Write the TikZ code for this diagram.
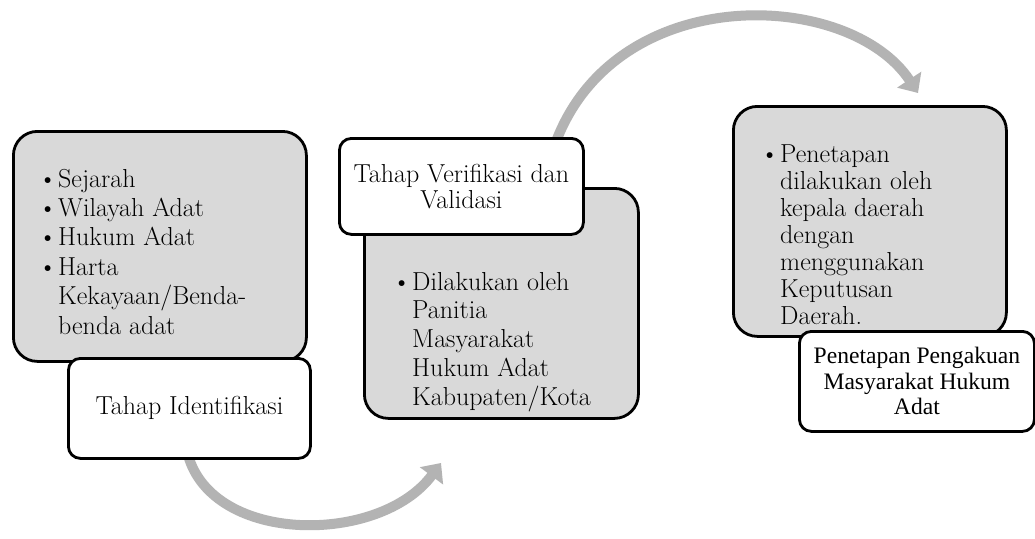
\documentclass[tikz,border=0pt]{standalone}
\usepackage{fontspec}
\newfontfamily\timesfam{Liberation Serif}
\usetikzlibrary{arrows.meta}
\definecolor{boxgray}{HTML}{D9D9D9}
\definecolor{arrowgray}{HTML}{B3B3B3}
\newcommand{\bul}{\llap{\textbullet\kern1pt}}
\tikzset{
  graybox/.style={draw=black, line width=2.8pt, fill=boxgray, rounded corners=24pt,
    inner sep=0pt, anchor=north west},
  labelbox/.style={draw=black, line width=2.8pt, fill=white, rounded corners=12pt,
    inner sep=0pt, anchor=north west, align=center},
  bodytext/.style={anchor=base west, align=left, inner sep=0pt},
  flow/.style={draw=arrowgray, line width=10pt, -{Triangle[length=16pt,width=28pt]}},
}
\begin{document}
\begin{tikzpicture}[x=1pt, y=-1pt]
\useasboundingbox (0,0) rectangle (1035,538);
\fill[white] (0,0) rectangle (1035,538);

% stage 1 (anchor = baseline of last line)
\node[graybox, minimum width=293pt, minimum height=230pt] (g1) at (12,130) {};
\node[bodytext, font=\fontsize{26}{29.4}\selectfont] (t1) at (58,334)
  {\bul Sejarah\\\bul Wilayah Adat\\\bul Hukum Adat\\\bul Harta\\Kekayaan/Benda-\\benda adat};

% stage 2
\node[graybox, minimum width=274pt, minimum height=230pt] (g2) at (363,187) {};
\node[bodytext, font=\fontsize{26}{28.75}\selectfont] (t2) at (412,405)
  {\bul Dilakukan oleh\\Panitia\\Masyarakat\\Hukum Adat\\Kabupaten/Kota};

% stage 3
\node[graybox, minimum width=273pt, minimum height=230pt] (g3) at (732,105) {};
\node[bodytext, font=\fontsize{26}{27}\selectfont] (t3) at (780,324)
  {\bul Penetapan\\dilakukan oleh\\kepala daerah\\dengan\\menggunakan\\Keputusan\\Daerah.};

% connectors
\coordinate (e1) at (441,463);
\coordinate (e2) at (918,93);
\coordinate (s1) at (188,455);
\coordinate (s2) at (557,139);
\draw[flow] (s1) .. controls (213,545) and (380,545) .. (e1);
\draw[flow] (s2) .. controls (620,-20) and (850,-10) .. (e2);

% labels
\node[labelbox, minimum width=242pt, minimum height=100pt,
  font=\fontsize{26}{26}\selectfont] (l1) at (67,357) {Tahap Identifikasi};
\node[labelbox, minimum width=244pt, minimum height=96pt,
  font=\fontsize{26}{26}\selectfont] (l2) at (338,137) {Tahap Verifikasi dan\\Validasi};
\node[labelbox, minimum width=235pt, minimum height=100pt,
  font=\timesfam\fontsize{23.6}{25.5}\selectfont] (l3) at (798,330)
  {Penetapan Pengakuan\\Masyarakat Hukum\\Adat};
\end{tikzpicture}
\end{document}
